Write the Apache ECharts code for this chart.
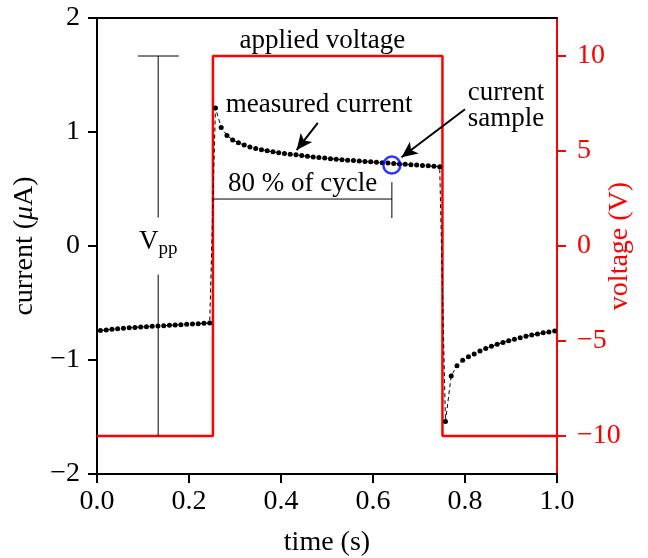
<!DOCTYPE html>
<html>
<head>
<meta charset="utf-8">
<script src="https://cdn.jsdelivr.net/npm/echarts@6/dist/echarts.min.js"></script>
<style>html,body{margin:0;padding:0;background:#fff}#c{width:648px;height:558px}</style>
</head>
<body>
<div id="c"></div>
<script>
// ---- data ----
var time1 = [0.0075,0.02,0.0325,0.045,0.0575,0.07,0.0825,0.095,0.1075,0.12,0.1325,0.145,0.1575,0.17,0.1825,0.195,0.2075,0.22,0.2325,0.245];
var current1 = [-0.742,-0.736,-0.731,-0.726,-0.722,-0.718,-0.714,-0.711,-0.708,-0.705,-0.702,-0.699,-0.696,-0.693,-0.690,-0.687,-0.684,-0.681,-0.678,-0.675];
var time2 = [0.2575,0.27,0.2825,0.295,0.3075,0.32,0.3325,0.345,0.3575,0.37,0.3825,0.395,0.4075,0.42,0.4325,0.445,0.4575,0.47,0.4825,0.495,0.5075,0.52,0.5325,0.545,0.5575,0.57,0.5825,0.595,0.6075,0.62,0.6325,0.645,0.6575,0.67,0.6825,0.695,0.7075,0.72,0.7325,0.745];
var current2 = [1.21,1.04,0.97,0.93,0.905,0.885,0.869,0.856,0.845,0.835,0.826,0.818,0.811,0.805,0.800,0.793,0.787,0.781,0.776,0.771,0.766,0.762,0.757,0.753,0.749,0.745,0.741,0.738,0.734,0.731,0.727,0.724,0.720,0.717,0.713,0.710,0.706,0.703,0.699,0.695];
var time3 = [0.7575,0.77,0.7825,0.795,0.8075,0.82,0.8325,0.845,0.8575,0.87,0.8825,0.895,0.9075,0.92,0.9325,0.945,0.9575,0.97,0.9825,0.995];
var current3 = [-1.54,-1.14,-1.05,-1.003,-0.971,-0.947,-0.92,-0.90,-0.88,-0.862,-0.846,-0.831,-0.817,-0.804,-0.792,-0.781,-0.771,-0.762,-0.754,-0.746];
var voltageTime = [0, 0.252, 0.252, 0.751, 0.751, 1.0];
var voltageValue = [-10, -10, 10, 10, -10, -10];
var sampleTime = [0.641];
var sampleCurrent = [0.71];
var xTicks = [0, 0.2, 0.4, 0.6, 0.8, 1.0];
var leftTicks = [-2, -1, 0, 1, 2];
var rightTicks = [-10, -5, 0, 5, 10];

var FONT = "'Liberation Serif', 'Times New Roman', serif";
var RED = '#ff0000';
function minus(v){ return String(v).replace('-', '\u2212'); }

var currentData = [];
[[time1,current1],[time2,current2],[time3,current3]].forEach(function(p){
  for (var i=0;i<p[0].length;i++) currentData.push([p[0][i], p[1][i]]);
});
var voltageData = voltageTime.map(function(t,i){ return [t, voltageValue[i]]; });

var chart = echarts.init(document.getElementById('c'), null, {renderer:'canvas'});
var option = {
  animation: false,
  backgroundColor: '#fff',
  grid: {left: 97, right: 91, top: 18, bottom: 84, containLabel: false, outerBoundsMode: 'none'},
  xAxis: [{
    type: 'value', min: 0, max: 1, interval: 0.2, position: 'bottom',
    axisLine: {onZero: false, lineStyle: {color: '#000', width: 2}},
    axisTick: {length: 9, lineStyle: {color:'#000', width: 2}},
    splitLine: {show: false},
    axisLabel: {fontFamily: FONT, fontSize: 28, color: '#000', margin: 14,
      customValues: xTicks, formatter: function(v){ return v.toFixed(1); }},
    name: 'time (s)', nameLocation: 'middle', nameGap: 55, nameMoveOverlap: false,
    nameTextStyle: {fontFamily: FONT, fontSize: 28, color: '#000'}
  },{
    type: 'value', position: 'top', min: 0, max: 1,
    axisLine: {show: true, onZero: false, lineStyle: {color: '#000', width: 2}},
    axisTick: {show: false}, axisLabel: {show: false}, splitLine: {show: false}
  }],
  yAxis: [{
    type: 'value', min: -2, max: 2, interval: 1, position: 'left',
    axisLine: {show: true, onZero: false, lineStyle: {color: '#000', width: 2}},
    axisTick: {show: true, length: 9, lineStyle: {color:'#000', width: 2}},
    splitLine: {show: false},
    axisLabel: {fontFamily: FONT, fontSize: 28, color: '#000', margin: 17, customValues: leftTicks, formatter: minus},
    name: '{a|current (}{b|\u03bc}{a|A)}', nameLocation: 'middle', nameGap: 58, nameMoveOverlap: false,
    nameTextStyle: {fontFamily: FONT, fontSize: 28, color: '#000',
      rich: {a: {fontFamily: FONT, fontSize: 28, color:'#000'}, b: {fontFamily: FONT, fontSize: 28, fontStyle: 'italic', color:'#000'}}}
  },{
    type: 'value', min: -12, max: 12, interval: 1, position: 'right',
    axisLine: {show: true, onZero: false, lineStyle: {color: RED, width: 2}},
    axisTick: {show: true, length: 9, customValues: rightTicks, lineStyle: {color: RED, width: 2}},
    splitLine: {show: false},
    axisLabel: {fontFamily: FONT, fontSize: 28, color: RED, margin: 20, customValues: rightTicks, formatter: minus},
    name: 'voltage (V)', nameLocation: 'middle', nameGap: 49, nameRotate: 90, nameMoveOverlap: false,
    nameTextStyle: {fontFamily: FONT, fontSize: 28, color: RED}
  }],
  series: [
    {
      type: 'line', name: 'voltage', yAxisIndex: 1, data: voltageData,
      showSymbol: false, symbol: 'none',
      lineStyle: {color: RED, width: 2.5}, z: 2, silent: true
    },
    {
      type: 'line', name: 'current', yAxisIndex: 0, data: currentData,
      symbol: 'circle', symbolSize: 5, showSymbol: true,
      itemStyle: {color: '#000'},
      lineStyle: {color: '#000', width: 1, type: [4, 3]}, z: 3, silent: true
    },
    {
      type: 'scatter', name: 'sample', yAxisIndex: 0,
      data: sampleTime.map(function(t,i){ return [t, sampleCurrent[i]]; }),
      symbol: 'circle', symbolSize: 17,
      itemStyle: {color: 'rgba(0,0,0,0)', borderColor: '#0000ff', borderWidth: 2.5}, z: 5, silent: true
    },
    // Vpp bracket (voltage axis)
    {
      type: 'line', yAxisIndex: 1, data: [[0.0885, 10], [0.178, 10]], symbol: 'none',
      lineStyle: {color: '#000', width: 1}, silent: true
    },
    {
      type: 'line', yAxisIndex: 1, data: [[0.133, 10], [0.133, 1.5]], symbol: 'none',
      lineStyle: {color: '#000', width: 1}, silent: true
    },
    {
      type: 'line', yAxisIndex: 1, data: [[0.133, -1.5], [0.133, -10]], symbol: 'none',
      lineStyle: {color: '#000', width: 1}, silent: true
    },
    // 80 % bracket
    {
      type: 'line', yAxisIndex: 0, data: [[0.253, 0.412], [0.641, 0.412]], symbol: 'none',
      lineStyle: {color: '#000', width: 1}, silent: true
    },
    {
      type: 'line', yAxisIndex: 0, data: [[0.641, 0.56], [0.641, 0.245]], symbol: 'none',
      lineStyle: {color: '#000', width: 1}, silent: true
    },
    // arrows
    {
      type: 'line', yAxisIndex: 0, data: [], silent: true,
      markLine: {
        silent: true, symbol: ['none', 'arrow'], symbolSize: [11, 16],
        label: {show: false},
        lineStyle: {color: '#000', width: 2, type: 'solid'},
        data: [
          [{coord: [0.480, 1.08]}, {coord: [0.434, 0.842]}],
          [{coord: [0.800, 1.20]}, {coord: [0.662, 0.778]}]
        ]
      }
    }
  ]
};
chart.setOption(option);

function px(t, v){ return chart.convertToPixel({xAxisIndex: 0, yAxisIndex: 0}, [t, v]); }
function label(t, v, s, align){
  var p = px(t, v);
  return {type: 'text', x: p[0], y: p[1], z: 10, silent: true,
    style: {text: s, fontFamily: FONT, fontSize: 27, fill: '#000', align: align || 'center', verticalAlign: 'middle'}};
}
var vp = px(0.133, 0.035);
chart.setOption({
  graphic: [
    label(0.49, 1.80, 'applied voltage'),
    label(0.28, 1.237, 'measured current', 'left'),
    label(0.889, 1.342, 'current'),
    label(0.889, 1.114, 'sample'),
    label(0.447, 0.545, '80 % of cycle'),
    {type: 'text', x: vp[0], y: vp[1], z: 10, silent: true,
     style: {text: '{a|V}{b|pp}', align: 'center', verticalAlign: 'middle',
       rich: {a: {fontFamily: FONT, fontSize: 27, fill: '#000', color: '#000'},
              b: {fontFamily: FONT, fontSize: 19, fill: '#000', color: '#000', padding: [14, 0, 0, 0]}}}}
  ]
});
</script>
</body>
</html>
